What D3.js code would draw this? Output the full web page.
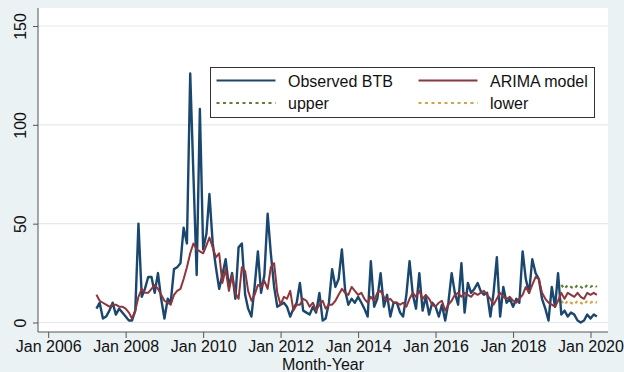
<!DOCTYPE html>
<html>
<head>
<meta charset="utf-8">
<script src="https://cdn.jsdelivr.net/npm/d3@7"></script>
<style>
  html, body { margin: 0; padding: 0; background: #eaf2f3; }
  svg { display: block; }
  text { font-family: "Liberation Sans", Arial, sans-serif; fill: #111; }
</style>
</head>
<body>
<svg id="chart" width="624" height="372"></svg>
<script>
// Monthly bovine TB counts, Apr 2007 – Mar 2020
const seriesStart = new Date(2007, 3, 1);
const observedBTB = [
  7, 10, 2, 3, 6, 10, 4, 7, 5,
  3, 1, 1, 6, 50, 13, 17, 23, 23, 15, 25, 12,
  2, 12, 10, 27, 28, 30, 48, 40, 126, 75, 24, 108,
  37, 45, 65, 40, 28, 17, 24, 32, 18, 25, 12, 38,
  40, 14, 7, 3, 18, 36, 15, 24, 55, 35, 18, 8,
  9, 10, 8, 3, 7, 10, 20, 6, 5, 4, 8, 5,
  15, 1, 2, 10, 27, 18, 22, 37, 16, 9, 12, 10,
  13, 10, 7, 3, 31, 8, 12, 25, 8, 14, 3, 10,
  10, 5, 3, 14, 31, 14, 7, 25, 6, 13, 4, 10,
  8, 3, 9, 1, 10, 25, 15, 9, 30, 5, 20, 15,
  17, 20, 16, 14, 15, 3, 15, 33, 3, 18, 10, 12,
  8, 12, 10, 36, 22, 15, 32, 25, 22, 12, 7, 1,
  18, 8, 25, 4, 6, 3, 5, 4, 1, 0, 1, 4,
  2, 4, 3
];
const arimaModel = [
  14, 11, 10, 9, 8, 9, 9, 8, 8,
  7, 5, 2, 6, 13, 17, 15, 15, 17, 19, 17, 14,
  11, 10, 9, 14, 16, 17, 22, 28, 35, 40, 37, 36,
  35, 39, 43, 38, 33, 35, 20, 27, 16, 24, 15, 12,
  28, 26, 16, 11, 14, 19, 18, 21, 17, 28, 30, 15,
  9, 13, 12, 16, 6, 9, 9, 12, 11, 8, 10, 6,
  9, 11, 7, 9, 9, 11, 14, 17, 15, 14, 18, 16,
  14, 15, 12, 10, 13, 11, 15, 16, 13, 11, 12, 10,
  10, 9, 10, 8, 12, 15, 13, 16, 12, 14, 12, 9,
  8, 10, 11, 6, 9, 11, 14, 15, 13, 15, 14, 13,
  15, 14, 15, 16, 14, 12, 9, 12, 15, 13, 12, 13,
  11, 10, 12, 14, 18, 15, 19, 23, 22, 15, 12, 10,
  9, 8, 11, 15, 12, 15, 14, 13, 15, 13, 12, 15,
  14, 15, 14
];
// Forecast interval, Apr 2019 – Mar 2020
const forecastStart = new Date(2019, 3, 1);
const upperBound = [19, 17, 19, 18, 17, 19, 18, 17, 19, 18, 19, 18];
const lowerBound = [11, 9, 11, 10, 9, 11, 10, 9, 11, 10, 11, 10];

const yTicks = [0, 50, 100, 150];
const xTickYears = [2006, 2008, 2010, 2012, 2014, 2016, 2018, 2020];

const colors = { observed: "#1a476f", arima: "#90353b", upper: "#5f7f35", lower: "#d9a23a" };

const svg = d3.select("#chart");
const plot = { left: 38, right: 608, top: 8, bottom: 332 };

const x = d3.scaleTime()
  .domain([new Date(2006, 0, 1), new Date(2020, 0, 1)])
  .range([48.2, 590.5]);
const y = d3.scaleLinear().domain([0, 150]).range([322.5, 26]);

// plot region
svg.append("rect")
  .attr("x", plot.left).attr("y", plot.top)
  .attr("width", plot.right - plot.left).attr("height", plot.bottom - plot.top)
  .attr("fill", "#ffffff");

// horizontal grid
svg.append("g").selectAll("line").data(yTicks).join("line")
  .attr("x1", plot.left).attr("x2", plot.right)
  .attr("y1", d => y(d)).attr("y2", d => y(d))
  .attr("stroke", "#e3eaeb").attr("stroke-width", 1.2);

// y axis
const yAxis = svg.append("g").attr("transform", `translate(${plot.left},0)`)
  .call(d3.axisLeft(y).tickValues(yTicks).tickSize(5).tickFormat(d3.format("d")));
yAxis.select(".domain").remove();
yAxis.selectAll(".tick line").attr("stroke", "#555");
yAxis.selectAll(".tick text")
  .attr("font-size", 16).attr("font-family", "Liberation Sans, Arial, sans-serif")
  .attr("fill", "#111")
  .attr("x", null).attr("dy", null)
  .attr("text-anchor", "middle")
  .attr("transform", "translate(-18,0) rotate(-90)")
  .attr("dominant-baseline", "central");
svg.append("line")
  .attr("x1", plot.left).attr("x2", plot.left)
  .attr("y1", plot.top).attr("y2", plot.bottom)
  .attr("stroke", "#555").attr("stroke-width", 1);

// x axis
const xAxis = svg.append("g").attr("transform", `translate(0,${plot.bottom})`)
  .call(d3.axisBottom(x)
    .tickValues(xTickYears.map(yr => new Date(yr, 0, 1)))
    .tickSize(6)
    .tickFormat(d3.timeFormat("%b %Y")));
xAxis.select(".domain").remove();
xAxis.selectAll(".tick line").attr("stroke", "#555");
xAxis.selectAll(".tick text")
  .attr("font-size", 16).attr("font-family", "Liberation Sans, Arial, sans-serif")
  .attr("fill", "#111").attr("y", 9).attr("dy", "0.71em");
svg.append("line")
  .attr("x1", plot.left).attr("x2", plot.right)
  .attr("y1", plot.bottom).attr("y2", plot.bottom)
  .attr("stroke", "#555").attr("stroke-width", 1);

svg.append("text")
  .attr("x", (plot.left + plot.right) / 2).attr("y", 370)
  .attr("text-anchor", "middle").attr("font-size", 16)
  .text("Month-Year");

// series
const toPoints = (vals, start) => vals.map((v, i) => ({ date: d3.timeMonth.offset(start, i), value: v }));
const line = d3.line().x(d => x(d.date)).y(d => y(d.value));

const series = [
  { key: "upper", data: toPoints(upperBound, forecastStart), dash: "3,3.5", width: 2.2 },
  { key: "lower", data: toPoints(lowerBound, forecastStart), dash: "3,3.5", width: 2.2 },
  { key: "observed", data: toPoints(observedBTB, seriesStart), dash: null, width: 2.4 },
  { key: "arima", data: toPoints(arimaModel, seriesStart), dash: null, width: 2 }
];
svg.append("g").selectAll("path").data(series).join("path")
  .attr("d", d => line(d.data))
  .attr("fill", "none")
  .attr("stroke", d => colors[d.key])
  .attr("stroke-width", d => d.width)
  .attr("stroke-dasharray", d => d.dash)
  .attr("stroke-linejoin", "round");

// legend
const legend = svg.append("g");
legend.append("rect")
  .attr("x", 210.5).attr("y", 67.5).attr("width", 384).attr("height", 50)
  .attr("fill", "#fff").attr("stroke", "#333").attr("stroke-width", 1);
const legendItems = [
  { key: "observed", label: "Observed BTB", col: 0, row: 0, dash: null },
  { key: "arima", label: "ARIMA model", col: 1, row: 0, dash: null },
  { key: "upper", label: "upper", col: 0, row: 1, dash: "3,3.5" },
  { key: "lower", label: "lower", col: 1, row: 1, dash: "3,3.5" }
];
const colX = [216.5, 418.5];
const rowY = [80.5, 103];
const li = legend.selectAll("g").data(legendItems).join("g");
li.append("line")
  .attr("x1", d => colX[d.col]).attr("x2", d => colX[d.col] + 59)
  .attr("y1", d => rowY[d.row]).attr("y2", d => rowY[d.row])
  .attr("stroke", d => colors[d.key]).attr("stroke-width", 2)
  .attr("stroke-dasharray", d => d.dash);
li.append("text")
  .attr("x", d => colX[d.col] + 71.5).attr("y", d => rowY[d.row] + 6)
  .attr("font-size", 16)
  .text(d => d.label);
</script>
</body>
</html>
